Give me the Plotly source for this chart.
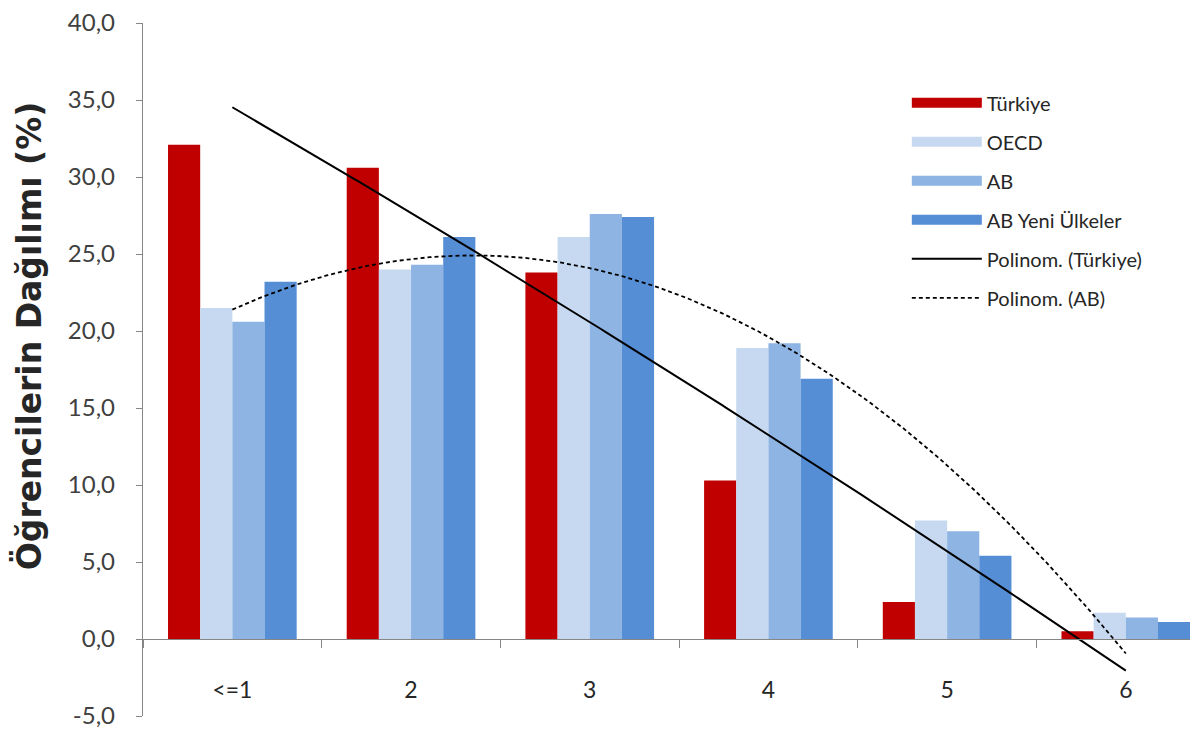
import numpy as np
import plotly.graph_objects as go

categories = ["<=1", "2", "3", "4", "5", "6"]
turkiye = [32.1, 30.6, 23.8, 10.3, 2.4, 0.5]
oecd = [21.5, 24.0, 26.1, 18.9, 7.7, 1.7]
ab = [20.6, 24.3, 27.6, 19.2, 7.0, 1.4]
ab_yeni = [23.2, 26.1, 27.4, 16.9, 5.4, 1.1]

series_names = ["Türkiye", "OECD", "AB", "AB Yeni Ülkeler"]
series_colors = ["#C00000", "#C6D9F1", "#8DB4E2", "#558ED5"]

ytick_vals = [-5, 0, 5, 10, 15, 20, 25, 30, 35, 40]
ytick_labels = ["-5,0", "0,0", "5,0", "10,0", "15,0", "20,0", "25,0", "30,0", "35,0", "40,0"]
y_title = "Öğrencilerin Dağılımı (%)"

xpos = list(range(len(categories)))

fig = go.Figure()
for name, vals, col in zip(series_names, [turkiye, oecd, ab, ab_yeni], series_colors):
    fig.add_trace(go.Bar(x=xpos, y=vals, name=name, marker=dict(color=col, line=dict(width=0)),
                         showlegend=False))

# polynomial (order 2) trendlines, as Excel computes them
n = np.arange(1, len(categories) + 1)
tgrid = np.linspace(1, len(categories), 200)
p_tr = np.polyfit(n, turkiye, 2)
p_ab = np.polyfit(n, ab, 2)
fig.add_trace(go.Scatter(x=tgrid - 1, y=np.polyval(p_tr, tgrid), mode="lines",
                         line=dict(color="black", width=2), showlegend=False))
fig.add_trace(go.Scatter(x=tgrid - 1, y=np.polyval(p_ab, tgrid), mode="lines",
                         line=dict(color="black", width=1.8, dash="4px,3px"), showlegend=False))

# legend entries
for i, (name, col) in enumerate(zip(series_names, series_colors)):
    fig.add_trace(go.Scatter(x=[None], y=[None], mode="lines", name=name,
                             line=dict(color=col, width=18), legendgroup=f"g{i}"))
fig.add_trace(go.Scatter(x=[None], y=[None], mode="lines", name="Polinom. (Türkiye)",
                         line=dict(color="black", width=2), legendgroup="g5"))
fig.add_trace(go.Scatter(x=[None], y=[None], mode="lines", name="Polinom. (AB)",
                         line=dict(color="black", width=1.8, dash="4px,3px"), legendgroup="g6"))

fig.add_annotation(text=f"<b>{y_title}</b>", xref="paper", yref="paper", x=-0.108, y=0.548,
                   xanchor="center", yanchor="middle", textangle=-90, showarrow=False,
                   font=dict(family="DejaVu Sans", size=33, color="#262626"))

fig.update_layout(
    width=1190, height=728,
    margin=dict(l=135, r=0, t=15, b=20),
    plot_bgcolor="white", paper_bgcolor="white",
    barmode="group", bargap=0.28, bargroupgap=0,
    legend=dict(x=0.724, y=0.913, xanchor="left", yanchor="top",
                font=dict(family="Lato", size=20, color="#262626"),
                itemwidth=70, tracegroupgap=10, bgcolor="rgba(0,0,0,0)"),
    xaxis=dict(range=[-0.5, 5.404], tickvals=xpos, ticktext=categories, automargin=False,
               showgrid=False, zeroline=False, showline=True, linecolor="#868686", linewidth=1.3,
               anchor="free", position=5 / 45, ticks="", ticklabelstandoff=30,
               tickfont=dict(family="Lato", size=23, color="#262626"),
               minor=dict(tick0=-0.5, dtick=1, ticks="outside", ticklen=8, tickcolor="#868686",
                          tickwidth=1.3, showgrid=False)),
    yaxis=dict(range=[-5, 40], tickvals=ytick_vals, ticktext=ytick_labels, automargin=False,
               showgrid=False, zeroline=False, ticklabelstandoff=16, ticklabeloverflow="allow",
               showline=True, linecolor="#868686", linewidth=1.3, ticks="outside", ticklen=6,
               tickcolor="#868686", tickfont=dict(family="Lato", size=24, color="#404040")),
)

fig.write_html("out.html")
